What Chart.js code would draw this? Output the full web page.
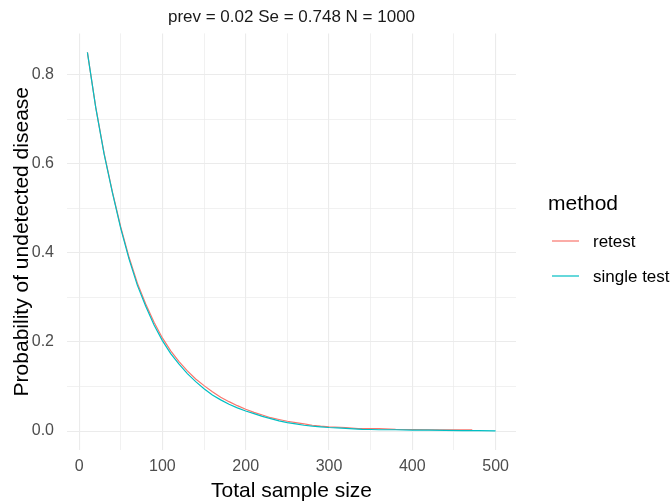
<!DOCTYPE html>
<html>
<head>
<meta charset="utf-8">
<script src="https://cdn.jsdelivr.net/npm/chart.js@4.4.1/dist/chart.umd.min.js"></script>
<style>
  html, body { margin: 0; padding: 0; background: #fff; }
  #wrap { width: 671px; height: 504px; position: relative; }
</style>
</head>
<body>
<div id="wrap"><canvas id="probChart"></canvas></div>
<script>
'use strict';

// ── Data ──────────────────────────────────────────────────────────────────────

const singleN = [10, 20, 30, 40, 50, 60, 70, 80, 90, 100, 110, 120, 130, 140, 150,
  160, 170, 180, 190, 200, 210, 220, 230, 240, 250, 260, 270, 280, 290, 300, 310,
  320, 330, 340, 350, 360, 380, 400, 420, 440, 460, 480, 500];
const singleP = [0.850, 0.726, 0.622, 0.535, 0.455, 0.386, 0.327, 0.280, 0.238, 0.203,
  0.174, 0.150, 0.129, 0.111, 0.095, 0.081, 0.070, 0.060, 0.052, 0.045, 0.039, 0.033,
  0.028, 0.023, 0.019, 0.016, 0.013, 0.011, 0.0095, 0.008, 0.007, 0.006, 0.005, 0.004,
  0.0035, 0.003, 0.003, 0.002, 0.002, 0.0015, 0.001, 0.001, 0.0005];

const retestN = [10, 20, 30, 40, 50, 60, 70, 80, 90, 100, 110, 120, 130, 140, 150,
  160, 170, 180, 190, 200, 210, 220, 230, 240, 250, 260, 270, 280, 290, 300, 320,
  335, 360, 380, 400, 434, 450, 472];
const retestP = [0.850, 0.727, 0.624, 0.537, 0.458, 0.390, 0.332, 0.285, 0.244, 0.209,
  0.180, 0.156, 0.135, 0.117, 0.102, 0.088, 0.076, 0.066, 0.057, 0.049, 0.042, 0.036,
  0.030, 0.026, 0.022, 0.019, 0.016, 0.013, 0.011, 0.0095, 0.008, 0.0056, 0.0056,
  0.004, 0.0035, 0.003, 0.003, 0.003];

const xMajor = [0, 100, 200, 300, 400, 500];
const xMinor = [50, 150, 250, 350, 450];
const yMajor = [0, 0.2, 0.4, 0.6, 0.8];
const yMinor = [0.1, 0.3, 0.5, 0.7];
const yTickLabels = ['0.0', '0.2', '0.4', '0.6', '0.8'];

const legendTitle = 'method';
const legendLabels = ['retest', 'single test'];
const legendColors = ['#F8766D', '#00BFC4'];

const FONT = '"Liberation Sans", Arial, sans-serif';
const GRID = '#EBEBEB';

// ── Helpers ───────────────────────────────────────────────────────────────────

function toPoints(xs, ys) {
  return xs.map((x, i) => ({ x, y: ys[i] }));
}

function sortedTicks(major, minor) {
  return major.concat(minor).sort((a, b) => a - b).map(v => ({ value: v }));
}

function isMajor(list, v) {
  return list.some(m => Math.abs(m - v) < 1e-9);
}

// custom ggplot-style legend on the right
const sideLegend = {
  id: 'sideLegend',
  afterDraw(chart) {
    const ctx = chart.ctx;
    ctx.save();
    ctx.fillStyle = '#000';
    ctx.font = '21px ' + FONT;
    ctx.textBaseline = 'middle';
    ctx.textAlign = 'left';
    ctx.fillText(legendTitle, 548, 204);

    ctx.font = '17px ' + FONT;
    legendLabels.forEach((lab, i) => {
      const y = 241 + i * 35;
      ctx.strokeStyle = legendColors[i];
      ctx.lineWidth = 1.2;
      ctx.beginPath();
      ctx.moveTo(552, y);
      ctx.lineTo(579, y);
      ctx.stroke();
      ctx.fillStyle = '#000';
      ctx.fillText(lab, 593, y + 1);
    });
    ctx.restore();
  }
};

// ── Chart ─────────────────────────────────────────────────────────────────────

const ctx = document.getElementById('probChart').getContext('2d');

new Chart(ctx, {
  type: 'line',
  data: {
    datasets: [
      {
        label: legendLabels[0],
        data: toPoints(retestN, retestP),
        borderColor: legendColors[0],
        backgroundColor: legendColors[0],
        borderWidth: 1.2,
        pointRadius: 0,
        tension: 0,
        order: 2,
      },
      {
        label: legendLabels[1],
        data: toPoints(singleN, singleP),
        borderColor: legendColors[1],
        backgroundColor: legendColors[1],
        borderWidth: 1.2,
        pointRadius: 0,
        tension: 0,
        order: 1,
      },
    ],
  },
  options: {
    responsive: true,
    maintainAspectRatio: false,
    animation: false,
    layout: { padding: { left: 0, right: 155, top: 0, bottom: 0 } },
    plugins: {
      legend: { display: false },
      tooltip: { enabled: false },
      title: {
        display: true,
        text: 'prev = 0.02 Se = 0.748 N = 1000',
        fullSize: false,
        color: '#1a1a1a',
        font: { family: FONT, size: 17, weight: 'normal' },
        padding: { top: 7, bottom: 6 },
      },
    },
    scales: {
      x: {
        type: 'linear',
        min: -14.5,
        max: 524.5,
        afterBuildTicks: axis => { axis.ticks = sortedTicks(xMajor, xMinor); },
        afterFit: axis => { axis.height = 54; },
        ticks: {
          color: '#4D4D4D',
          font: { family: FONT, size: 16 },
          padding: 7,
          maxRotation: 0,
          autoSkip: false,
          callback: v => isMajor(xMajor, v) ? String(v) : '',
        },
        grid: {
          color: GRID,
          lineWidth: c => isMajor(xMajor, c.tick.value) ? 1.1 : 0.7,
          drawTicks: false,
        },
        border: { display: false },
        title: {
          display: true,
          text: 'Total sample size',
          color: '#000',
          font: { family: FONT, size: 21 },
          padding: { top: 0, bottom: 0 },
        },
      },
      y: {
        type: 'linear',
        min: -0.0425,
        max: 0.8925,
        afterBuildTicks: axis => { axis.ticks = sortedTicks(yMajor, yMinor); },
        afterFit: axis => { axis.width = 67; },
        ticks: {
          color: '#4D4D4D',
          font: { family: FONT, size: 16 },
          padding: 13,
          autoSkip: false,
          callback: v => {
            const i = yMajor.findIndex(m => Math.abs(m - v) < 1e-9);
            return i >= 0 ? yTickLabels[i] : '';
          },
        },
        grid: {
          color: GRID,
          lineWidth: c => isMajor(yMajor, c.tick.value) ? 1.1 : 0.7,
          drawTicks: false,
        },
        border: { display: false },
        title: {
          display: true,
          text: 'Probability of undetected disease',
          color: '#000',
          font: { family: FONT, size: 21 },
          padding: { top: 10, bottom: 0 },
        },
      },
    },
  },
  plugins: [sideLegend],
});
</script>
</body>
</html>
